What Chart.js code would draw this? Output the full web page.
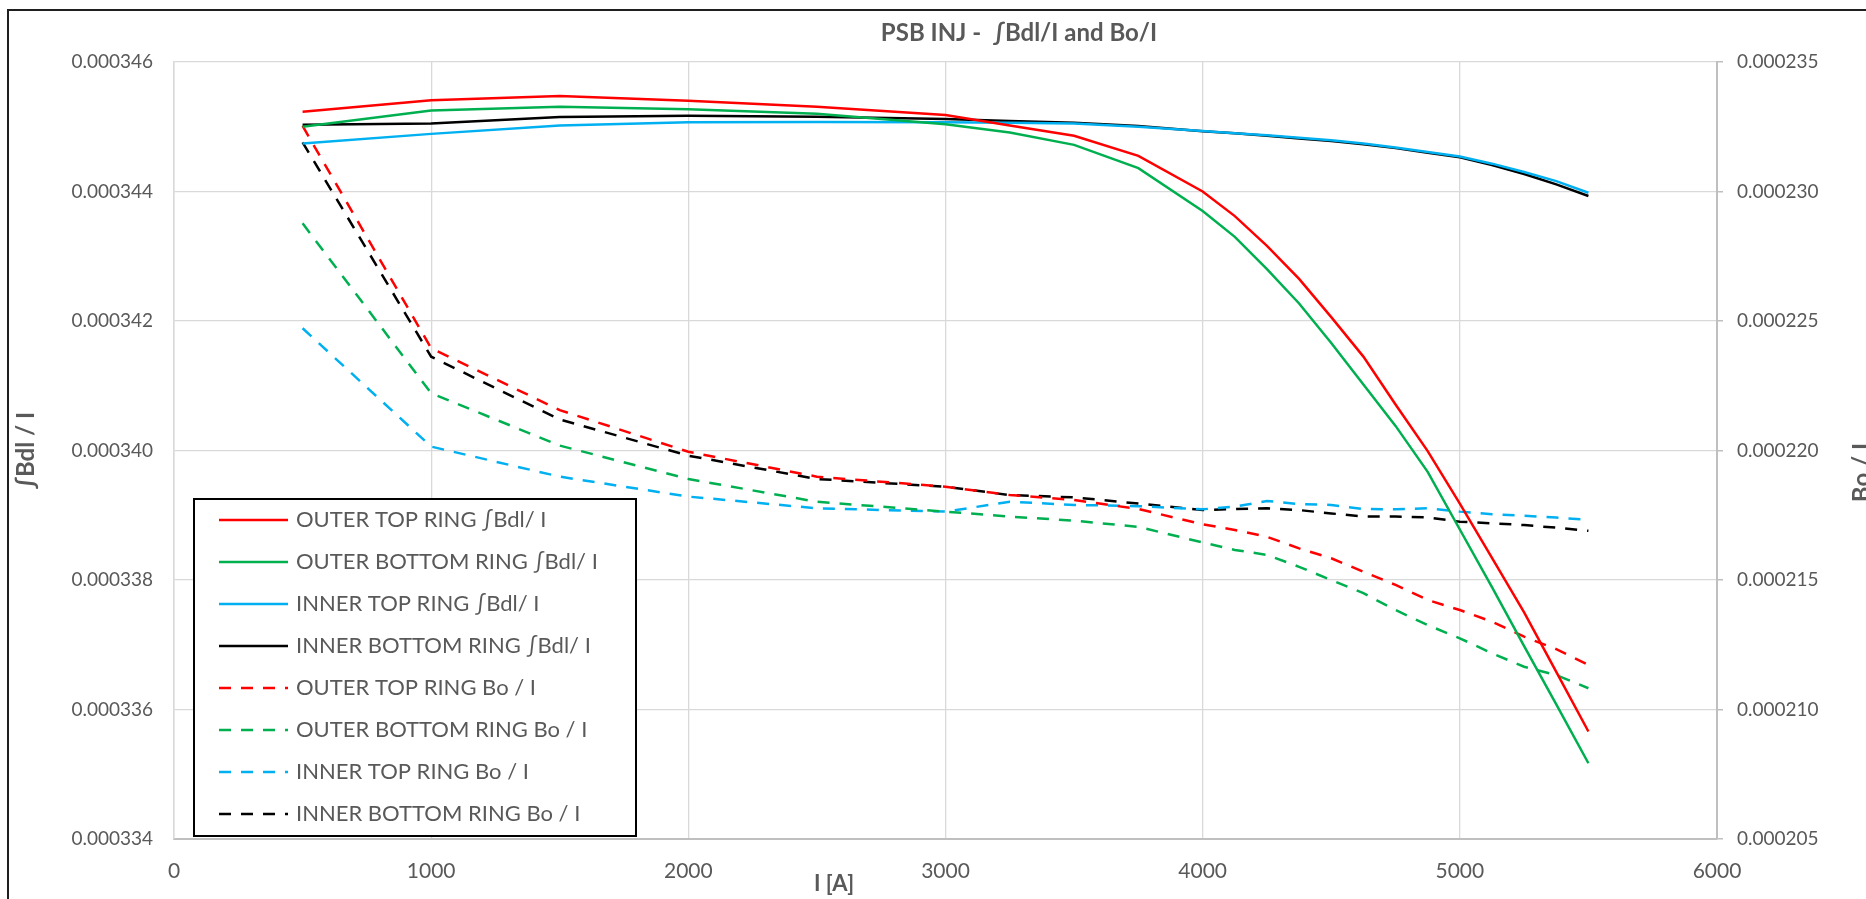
<!DOCTYPE html>
<html>
<head>
<meta charset="utf-8">
<script src="https://cdn.jsdelivr.net/npm/chart.js@4/dist/chart.umd.min.js"></script>
<style>
  html, body { margin: 0; padding: 0; background: #fff; width: 1866px; height: 899px; overflow: hidden; }
  #frame { position: absolute; left: 7px; top: 9px; border: 2px solid #1f1f1f; width: 2020px; height: 900px; }
  canvas { display: block; }
</style>
</head>
<body>
<div id="frame"><canvas id="chart" width="2020" height="888"></canvas></div>
<script>
// current steps [A]
const currents = [500, 1000, 1500, 2000, 2500, 3000, 3250, 3500, 3750, 4000, 4125, 4250,
                  4375, 4500, 4625, 4750, 4875, 5000, 5125, 5250, 5375, 5500];

// ∫Bdl / I  (left axis)
const outerTopBdl = [0.00034523, 0.00034541, 0.000345475, 0.00034540, 0.00034531, 0.00034518, 0.00034502,
  0.00034486, 0.00034455, 0.00034400, 0.00034362, 0.00034316, 0.00034265, 0.00034206, 0.00034145,
  0.00034071, 0.00033999, 0.00033918, 0.00033834, 0.00033750, 0.00033658, 0.00033566];
const outerBottomBdl = [0.00034500, 0.00034525, 0.00034531, 0.00034527, 0.00034520, 0.00034504, 0.00034491,
  0.00034472, 0.00034436, 0.00034370, 0.00034330, 0.00034280, 0.00034227, 0.00034166, 0.00034102,
  0.00034038, 0.00033967, 0.00033878, 0.00033789, 0.00033698, 0.00033608, 0.00033517];
const innerTopBdl = [0.00034474, 0.00034489, 0.00034502, 0.00034507, 0.000345075, 0.00034507, 0.00034506,
  0.00034505, 0.00034500, 0.000344935, 0.00034490, 0.00034487, 0.00034483, 0.00034479, 0.00034474,
  0.00034468, 0.00034461, 0.00034454, 0.00034443, 0.00034430, 0.00034416, 0.00034398];
const innerBottomBdl = [0.00034503, 0.00034505, 0.00034515, 0.00034517, 0.000345155, 0.00034512, 0.00034509,
  0.00034506, 0.00034501, 0.00034493, 0.00034490, 0.00034486, 0.00034482, 0.00034478, 0.00034473,
  0.00034467, 0.00034460, 0.00034453, 0.00034441, 0.00034427, 0.00034411, 0.00034393];

// Bo / I  (right axis)
const outerTopBo = [0.00023253, 0.00022395, 0.00022156, 0.00021995, 0.00021899, 0.00021860, 0.00021828,
  0.00021809, 0.00021774, 0.00021715, 0.00021693, 0.00021667, 0.00021622, 0.00021584, 0.00021532,
  0.00021481, 0.00021423, 0.00021384, 0.00021339, 0.00021281, 0.00021233, 0.00021172];
const outerBottomBo = [0.00022877, 0.00022221, 0.00022019, 0.00021890, 0.00021802, 0.00021764, 0.00021745,
  0.00021729, 0.00021705, 0.00021645, 0.00021616, 0.00021597, 0.00021551, 0.00021500, 0.00021449,
  0.00021384, 0.00021326, 0.00021275, 0.00021217, 0.00021165, 0.00021133, 0.00021082];
const innerTopBo = [0.00022472, 0.00022015, 0.00021899, 0.00021822, 0.00021777, 0.00021764, 0.00021802,
  0.00021790, 0.00021785, 0.00021773, 0.00021783, 0.00021805, 0.00021793, 0.00021790, 0.00021774,
  0.00021773, 0.00021777, 0.00021764, 0.00021754, 0.00021748, 0.00021741, 0.00021732];
const innerBottomBo = [0.00023190, 0.00022362, 0.00022120, 0.00021980, 0.00021890, 0.00021860, 0.00021828,
  0.00021819, 0.00021795, 0.00021770, 0.00021774, 0.00021777, 0.00021770, 0.00021757, 0.00021745,
  0.00021745, 0.00021742, 0.00021725, 0.00021719, 0.00021712, 0.00021702, 0.00021690];

const xTicks = [0, 6000, 1000];
const leftTicks = [0.000334, 0.000346, 0.000002];
const rightTicks = [0.000205, 0.000235, 0.000005];

const RED = "#FF0000", GREEN = "#00B050", BLUE = "#00B0F0", BLACK = "#000000";
const GREY = "#595959";
const DASH = [12, 10];

const pts = vals => currents.map((x, i) => ({ x: x, y: vals[i] }));

const series = (label, vals, colour, dashed) => ({
  label: label,
  data: pts(vals),
  borderColor: colour,
  backgroundColor: colour,
  borderWidth: 2.5,
  borderDash: dashed ? DASH : [],
  pointRadius: 0,
  tension: 0,
  fill: false,
  yAxisID: dashed ? "y1" : "y"
});

// boxed legend sitting in the lower left of the plot
const boxLegend = {
  id: "boxLegend",
  afterDraw(chart) {
    const { ctx, chartArea } = chart;
    const w = 442, h = 337, rowH = 42;
    const left = chartArea.left + 20;
    const top = chartArea.bottom - 3 - h;
    ctx.save();
    ctx.fillStyle = "#fff";
    ctx.fillRect(left, top, w, h);
    ctx.lineWidth = 2;
    ctx.strokeStyle = "#000";
    ctx.setLineDash([]);
    ctx.strokeRect(left, top, w, h);
    ctx.font = "22px Lato";
    ctx.textBaseline = "middle";
    chart.data.datasets.forEach((ds, i) => {
      const y = top + 21 + i * rowH;
      ctx.beginPath();
      ctx.setLineDash(ds.borderDash);
      ctx.lineWidth = ds.borderWidth;
      ctx.strokeStyle = ds.borderColor;
      ctx.moveTo(left + 25, y);
      ctx.lineTo(left + 94, y);
      ctx.stroke();
      ctx.setLineDash([]);
      ctx.fillStyle = GREY;
      ctx.fillText(ds.label, left + 102, y);
    });
    ctx.restore();
  }
};

// axis titles placed like the original sheet (x title off-centre, right title reading upwards)
const axisTitles = {
  id: "axisTitles",
  afterDraw(chart) {
    const { ctx, chartArea } = chart;
    ctx.save();
    ctx.font = "bold 22px Lato";
    ctx.fillStyle = GREY;
    ctx.textAlign = "center";
    ctx.textBaseline = "middle";
    ctx.fillText("I [A]", chartArea.left + 660, chartArea.bottom + 45);
    ctx.font = "bold 24px Lato";
    ctx.translate(chartArea.right + 145, (chartArea.top + chartArea.bottom) / 2 + 22);
    ctx.rotate(-Math.PI / 2);
    ctx.fillText("Bo / I", 0, 0);
    ctx.restore();
  }
};

new Chart(document.getElementById("chart"), {
  type: "line",
  data: {
    datasets: [
      series("OUTER TOP RING \u222BBdl/ I", outerTopBdl, RED, false),
      series("OUTER BOTTOM RING \u222BBdl/ I", outerBottomBdl, GREEN, false),
      series("INNER TOP RING \u222BBdl/ I", innerTopBdl, BLUE, false),
      series("INNER BOTTOM RING \u222BBdl/ I", innerBottomBdl, BLACK, false),
      series("OUTER TOP RING Bo / I", outerTopBo, RED, true),
      series("OUTER BOTTOM RING Bo / I", outerBottomBo, GREEN, true),
      series("INNER TOP RING Bo / I", innerTopBo, BLUE, true),
      series("INNER BOTTOM RING Bo / I", innerBottomBo, BLACK, true)
    ]
  },
  options: {
    responsive: false,
    animation: false,
    layout: { padding: 0 },
    plugins: {
      legend: { display: false },
      tooltip: { enabled: false },
      title: {
        display: true,
        text: "PSB INJ -  \u222BBdl/I and Bo/I",
        color: GREY,
        font: { family: "Lato", size: 24, weight: "bold", lineHeight: 1.2 },
        padding: { top: 8.1, bottom: 14.1 }
      }
    },
    scales: {
      x: {
        type: "linear",
        min: xTicks[0],
        max: xTicks[1],
        afterFit: s => { s.height = 60; },
        ticks: {
          stepSize: xTicks[2],
          padding: 20,
          color: GREY,
          font: { family: "Lato", size: 21 },
          callback: v => String(v)
        },
        grid: { color: "#D9D9D9", lineWidth: 1.3, drawTicks: false },
        border: { color: "#BFBFBF", width: 2 }
      },
      y: {
        position: "left",
        min: leftTicks[0],
        max: leftTicks[1],
        afterFit: s => { s.width = 165; },
        ticks: {
          stepSize: leftTicks[2],
          padding: 21,
          color: GREY,
          font: { family: "Lato", size: 19 },
          callback: v => v.toFixed(6)
        },
        grid: { color: "#D9D9D9", lineWidth: 1.3, drawTicks: false },
        border: { color: "#D9D9D9", width: 1.5 },
        title: {
          display: true,
          text: "\u222BBdl / I",
          color: GREY,
          font: { family: "Lato", size: 24, weight: "bold", lineHeight: 1.2 },
          padding: { top: 3, bottom: 0 }
        }
      },
      y1: {
        position: "right",
        min: rightTicks[0],
        max: rightTicks[1],
        afterFit: s => { s.width = 312; },
        ticks: {
          stepSize: rightTicks[2],
          padding: 14,
          color: GREY,
          font: { family: "Lato", size: 19 },
          callback: v => v.toFixed(6)
        },
        grid: { drawOnChartArea: false, drawTicks: true, tickLength: 6, color: "#BFBFBF", lineWidth: 1.5 },
        border: { color: "#BFBFBF", width: 2 }
      }
    }
  },
  plugins: [boxLegend, axisTitles]
});
</script>
</body>
</html>
